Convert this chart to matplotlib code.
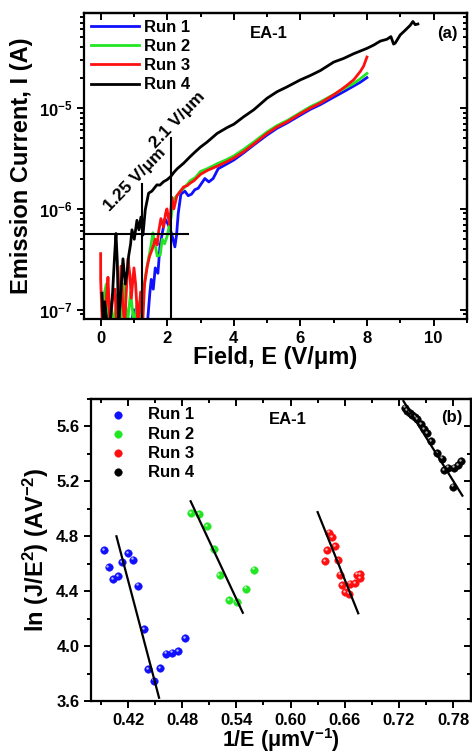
import numpy as np
import matplotlib
matplotlib.use('Agg')
import matplotlib.pyplot as plt
from matplotlib.ticker import MultipleLocator, FormatStrFormatter

# =============================================================================
# Data
# =============================================================================

# Panel (a): emission current vs field
E1 = [0.05, 0.3, 0.6, 0.9, 1.0, 1.05, 1.2, 1.4, 1.48, 1.52, 1.58, 1.64, 1.72,
      1.78, 1.85, 1.93, 2.03, 2.13, 2.23, 2.28, 2.33, 2.41, 2.53, 2.63, 2.73,
      2.83, 2.93, 3.13, 3.25, 3.38, 3.53, 3.8, 4.0, 4.3, 4.6, 5.0, 5.3, 5.6,
      6.0, 6.3, 6.6, 7.0, 7.3, 7.6, 7.8, 8.0]
I1 = [7e-8, 7e-8, 7e-8, 7e-8, 1.0e-7, 7e-8, 7e-8, 7e-8, 1.5e-7, 2.0e-7,
      1.6e-7, 2.6e-7, 2.3e-7, 4.2e-7, 5.7e-7, 8e-7, 7e-7, 5.7e-7, 4.2e-7,
      5.5e-7, 9e-7, 1.4e-6, 1.5e-6, 1.35e-6, 1.4e-6, 1.55e-6, 1.6e-6, 2.0e-6,
      1.85e-6, 2.0e-6, 2.5e-6, 2.8e-6, 3.05e-6, 3.6e-6, 4.3e-6, 5.4e-6, 6.3e-6,
      7.1e-6, 8.5e-6, 9.7e-6, 1.08e-5, 1.28e-5, 1.45e-5, 1.65e-5, 1.8e-5, 2.0e-5]

E2 = [0.04, 0.08, 0.12, 0.17, 0.22, 0.3, 0.4, 0.5, 0.6, 0.7, 0.8, 0.9, 1.0,
      1.1, 1.2, 1.28, 1.35, 1.42, 1.5, 1.57, 1.63, 1.7, 1.79, 1.85, 1.92, 2.0,
      2.05, 2.11, 2.19, 2.3, 2.39, 2.5, 2.69, 2.85, 3.0, 3.2, 3.5, 3.8, 4.0,
      4.3, 4.6, 5.0, 5.3, 5.6, 6.0, 6.3, 6.6, 7.0, 7.3, 7.6, 7.8, 8.0]
I2 = [1.1e-7, 7e-8, 1.5e-7, 1.8e-7, 7e-8, 1.2e-7, 7e-8, 1.4e-7, 7e-8, 1.8e-7,
      7e-8, 1.5e-7, 7e-8, 1.2e-7, 7e-8, 1.5e-7, 2.2e-7, 3.0e-7, 4.1e-7, 5.8e-7,
      4.5e-7, 3.4e-7, 3.5e-7, 5.0e-7, 4.5e-7, 5.4e-7, 6.5e-7, 8e-7, 1.25e-6,
      1.35e-6, 1.5e-6, 1.6e-6, 1.9e-6, 2.05e-6, 2.35e-6, 2.5e-6, 2.8e-6, 3.1e-6,
      3.35e-6, 3.9e-6, 4.6e-6, 5.8e-6, 6.7e-6, 7.5e-6, 9.0e-6, 1.03e-5,
      1.15e-5, 1.36e-5, 1.55e-5, 1.75e-5, 1.95e-5, 2.2e-5]

E3 = [0.0, 0.0, 0.05, 0.12, 0.18, 0.22, 0.28, 0.35, 0.43, 0.48, 0.55, 0.61,
      0.66, 0.72, 0.82, 0.88, 0.92, 1.0, 1.05, 1.12, 1.2, 1.26, 1.32, 1.4,
      1.47, 1.54, 1.6, 1.64, 1.7, 1.74, 1.81, 1.89, 1.95, 1.99, 2.04, 2.07,
      2.14, 2.2, 2.29, 2.4, 2.49, 2.6, 2.69, 2.8, 3.0, 3.2, 3.5, 3.8, 4.0, 4.3,
      4.6, 5.0, 5.3, 5.6, 6.0, 6.3, 6.6, 7.0, 7.2, 7.4, 7.6, 7.8, 7.9, 8.0]
I3 = [3.6e-7, 2.0e-7, 7e-8, 7e-8, 1.4e-7, 2.1e-7, 7e-8, 1.2e-7, 1.6e-7, 7e-8,
      7e-8, 2.7e-7, 1.2e-7, 7e-8, 3.2e-7, 2.2e-7, 1.3e-7, 2.6e-7, 1.8e-7, 7e-8,
      1.5e-7, 7e-8, 1.8e-7, 2.7e-7, 3.4e-7, 3.9e-7, 4.5e-7, 5e-7, 4.4e-7,
      5.9e-7, 8e-7, 6.6e-7, 9e-7, 1.0e-6, 8e-7, 7e-7, 1.3e-6, 1.0e-6, 1.35e-6,
      1.5e-6, 1.65e-6, 1.7e-6, 1.8e-6, 1.9e-6, 2.2e-6, 2.4e-6, 2.65e-6,
      2.95e-6, 3.2e-6, 3.7e-6, 4.4e-6, 5.6e-6, 6.5e-6, 7.3e-6, 8.8e-6, 1.0e-5,
      1.12e-5, 1.35e-5, 1.5e-5, 1.68e-5, 1.9e-5, 2.3e-5, 2.6e-5, 3.2e-5]

E4 = [0.04, 0.08, 0.12, 0.20, 0.28, 0.36, 0.42, 0.46, 0.50, 0.54, 0.60, 0.67,
      0.74, 0.80, 0.84, 0.90, 0.94, 1.01, 1.09, 1.15, 1.21, 1.27, 1.34, 1.44,
      1.54, 1.62, 1.69, 1.78, 1.89, 2.0, 2.11, 2.2, 2.3, 2.39, 2.5, 2.69, 2.85,
      3.0, 3.2, 3.5, 3.8, 4.0, 4.3, 4.6, 5.0, 5.3, 5.6, 6.0, 6.3, 6.6, 7.0,
      7.3, 7.6, 8.0, 8.2, 8.4, 8.6, 8.72, 8.8, 8.85, 9.0, 9.15, 9.3, 9.38,
      9.45, 9.53]
I4 = [1.46e-7, 7e-8, 1.2e-7, 7e-8, 7e-8, 1.5e-7, 3.5e-7, 5.7e-7, 3e-7, 7e-8,
      1.4e-7, 3.2e-7, 1.8e-7, 2.4e-7, 3.4e-7, 4.5e-7, 6.2e-7, 5e-7, 7.7e-7,
      6.2e-7, 8.3e-7, 5.5e-7, 9.8e-7, 1.43e-6, 1.5e-6, 1.62e-6, 1.73e-6,
      1.72e-6, 1.86e-6, 1.95e-6, 2.1e-6, 2.3e-6, 2.5e-6, 2.65e-6, 2.85e-6,
      3.3e-6, 3.7e-6, 4.1e-6, 4.6e-6, 5.6e-6, 6.4e-6, 6.9e-6, 8.2e-6, 9.6e-6,
      1.25e-5, 1.45e-5, 1.62e-5, 1.9e-5, 2.1e-5, 2.35e-5, 2.85e-5, 3.1e-5,
      3.45e-5, 3.9e-5, 4.2e-5, 4.6e-5, 4.8e-5, 5.1e-5, 4.3e-5, 4.4e-5, 5.3e-5,
      5.9e-5, 6.6e-5, 7.2e-5, 6.7e-5, 6.8e-5]

# Turn-on fields and threshold current
E_on = [1.25, 2.1]
E_on_top = [1.75e-6, 5.0e-6]
I_th = 5.6e-7
E_th_end = 2.62

# Panel (b): F-N plot
x1 = [0.3935, 0.3983, 0.4034, 0.4089, 0.4137, 0.4196, 0.4252, 0.4307,
      0.4377, 0.4425, 0.4487, 0.4554, 0.4616, 0.4690, 0.4756, 0.4830]
y1 = [4.70, 4.575, 4.488, 4.508, 4.613, 4.680, 4.630, 4.440,
      4.123, 3.835, 3.749, 3.840, 3.946, 3.953, 3.965, 4.059]
x2 = [0.4896, 0.4981, 0.5070, 0.5151, 0.5213, 0.5317, 0.5405, 0.5505, 0.5597]
y2 = [4.969, 4.964, 4.872, 4.709, 4.515, 4.335, 4.320, 4.419, 4.558]
x3 = [0.6378, 0.6404, 0.6429, 0.6459, 0.6496, 0.6525, 0.6547, 0.6569,
      0.6606, 0.6643, 0.6658, 0.6710, 0.6732, 0.6768, 0.6768]
y3 = [4.620, 4.700, 4.827, 4.796, 4.731, 4.628, 4.520, 4.443,
      4.392, 4.383, 4.455, 4.460, 4.520, 4.527, 4.493]
x4 = [0.7266, 0.7295, 0.7321, 0.7351, 0.7380, 0.7402, 0.7447, 0.7476,
      0.7509, 0.7553, 0.7623, 0.7682, 0.7697, 0.7749, 0.7800, 0.7807,
      0.7859, 0.7885]
y4 = [5.737, 5.715, 5.701, 5.684, 5.670, 5.655, 5.617, 5.583,
      5.552, 5.492, 5.408, 5.365, 5.283, 5.300, 5.161, 5.300,
      5.319, 5.348]

# Linear fit segments (end points)
fit_x = [[0.4071, 0.4543], [0.4893, 0.5471], [0.6300, 0.6750], [0.7251, 0.7904]]
fit_y = [[4.800, 3.624], [5.055, 4.243], [4.976, 4.239], [5.785, 5.096]]

labels = ['Run 1', 'Run 2', 'Run 3', 'Run 4']
colors = ['#1010ff', '#22e622', '#ff1010', 'black']

# =============================================================================
# Styling
# =============================================================================

plt.rcParams['font.family'] = ['Liberation Sans', 'DejaVu Sans']
plt.rcParams['font.weight'] = 'bold'
plt.rcParams['axes.labelweight'] = 'bold'
plt.rcParams['mathtext.fontset'] = 'custom'
plt.rcParams['mathtext.rm'] = 'Liberation Sans:bold'
plt.rcParams['mathtext.it'] = 'Liberation Sans:bold'
plt.rcParams['mathtext.bf'] = 'Liberation Sans:bold'
plt.rcParams['mathtext.default'] = 'rm'
plt.rcParams['axes.linewidth'] = 1.6


def style_axes(ax):
    ax.tick_params(which='both', direction='out', width=1.4, labelsize=12)
    ax.tick_params(which='major', length=5)
    ax.tick_params(which='minor', length=3)
    top = ax.secondary_xaxis('top')
    right = ax.secondary_yaxis('right')
    for sec in [top, right]:
        sec.tick_params(which='both', direction='in', width=1.4,
                        labeltop=False, labelright=False)
        sec.tick_params(which='major', length=5)
        sec.tick_params(which='minor', length=3)
    return top, right


fig = plt.figure(figsize=[4.72, 7.55], dpi=100)

# =============================================================================
# Panel (a)
# =============================================================================

ax0 = fig.add_axes([0.178, 0.5775, 0.811, 0.405])
for E, I, c, lab in zip([E1, E2, E3, E4], [I1, I2, I3, I4], colors, labels):
    ax0.plot(E, I, '-', color=c, lw=2.0, label=lab)

ax0.set_yscale('log')
ax0.set_xlim(-0.5, 11)
ax0.set_ylim(8.1e-8, 8.7e-5)

for e, top_val in zip(E_on, E_on_top):
    ax0.plot([e, e], [8.1e-8, top_val], 'k-', lw=1.5)
ax0.plot([-0.5, E_th_end], [I_th, I_th], 'k-', lw=1.5)

ax0.text(1.02, 1.94e-6, '1.25 V/\u03bcm', rotation=46, ha='center',
         va='center', rotation_mode='anchor', fontsize=12.5)
ax0.text(2.3, 7.6e-6, '2.1 V/\u03bcm', rotation=46, ha='center',
         va='center', rotation_mode='anchor', fontsize=12.5)

ax0.xaxis.set_major_locator(MultipleLocator(2))
ax0.xaxis.set_minor_locator(MultipleLocator(1))
t0, r0 = style_axes(ax0)
t0.xaxis.set_major_locator(MultipleLocator(2))
t0.xaxis.set_minor_locator(MultipleLocator(1))

ax0.set_xlabel('Field, E (V/\u03bcm)', fontsize=17, labelpad=0)
ax0.set_ylabel('Emission Current, I (A)', fontsize=17, labelpad=4)

ax0.legend(loc='upper left', bbox_to_anchor=(0.0, 1.0), frameon=False,
           fontsize=12, handlelength=2.9, handletextpad=0.3,
           labelspacing=0.25, borderaxespad=0.2, borderpad=0.2)
ax0.text(0.483, 0.935, 'EA-1', transform=ax0.transAxes, ha='center',
         va='center', fontsize=12)
ax0.text(0.948, 0.935, '(a)', transform=ax0.transAxes, ha='center',
         va='center', fontsize=12)

# =============================================================================
# Panel (b)
# =============================================================================

ax1 = fig.add_axes([0.193, 0.0715, 0.805, 0.400])
for x, y, c, lab in zip([x1, x2, x3, x4], [y1, y2, y3, y4], colors, labels):
    ax1.scatter(x, y, s=30, color=c, edgecolors=c, linewidths=0.3,
                label=lab, zorder=3)
    ax1.scatter(np.array(x) - 0.0012, np.array(y) + 0.009, s=3,
                color='white', alpha=0.7, linewidths=0, zorder=4)
for fx, fy in zip(fit_x, fit_y):
    ax1.plot(fx, fy, 'k-', lw=1.6, zorder=5)

ax1.set_xlim(0.379, 0.80)
ax1.set_ylim(3.6, 5.8)
ax1.xaxis.set_major_locator(MultipleLocator(0.06))
ax1.xaxis.set_minor_locator(MultipleLocator(0.03))
ax1.yaxis.set_major_locator(MultipleLocator(0.4))
ax1.yaxis.set_minor_locator(MultipleLocator(0.2))
ax1.xaxis.set_major_formatter(FormatStrFormatter('%.2f'))
ax1.yaxis.set_major_formatter(FormatStrFormatter('%.1f'))
t1, r1 = style_axes(ax1)
t1.xaxis.set_major_locator(MultipleLocator(0.06))
t1.xaxis.set_minor_locator(MultipleLocator(0.03))
r1.yaxis.set_major_locator(MultipleLocator(0.4))
r1.yaxis.set_minor_locator(MultipleLocator(0.2))

ax1.set_xlabel('1/E (\u03bcmV$^{-1}$)', fontsize=15.5, labelpad=-1)
ax1.set_ylabel('ln (J/E$^{2}$) (AV$^{-2}$)', fontsize=17, labelpad=4)

ax1.legend(loc='upper left', bbox_to_anchor=(0.0, 1.0), frameon=False,
           fontsize=12, handlelength=2.2, handletextpad=0.7,
           labelspacing=0.25, borderaxespad=0.2, borderpad=0.3,
           scatterpoints=1)
ax1.text(0.518, 0.932, 'EA-1', transform=ax1.transAxes, ha='center',
         va='center', fontsize=12)
ax1.text(0.949, 0.938, '(b)', transform=ax1.transAxes, ha='center',
         va='center', fontsize=12)

fig.savefig('out.png', dpi=100)
